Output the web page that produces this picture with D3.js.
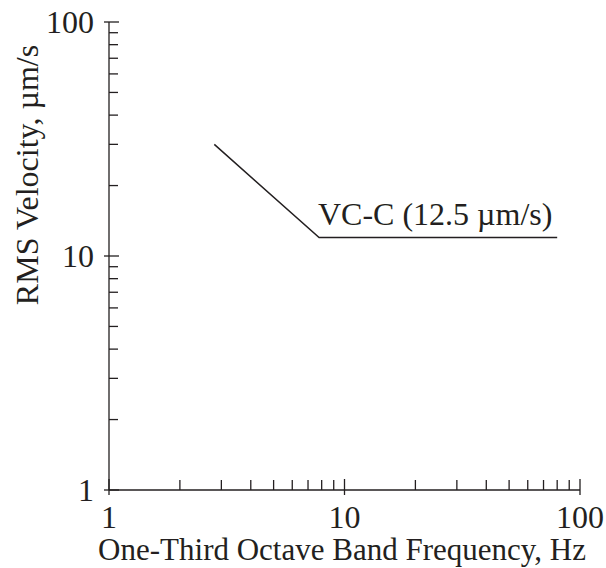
<!DOCTYPE html>
<html><head><meta charset="utf-8">
<script src="https://cdn.jsdelivr.net/npm/d3@7/dist/d3.min.js"></script>
<style>body{margin:0;background:#fff}svg{display:block}</style>
</head><body>
<svg id="c" width="606" height="568"></svg>
<script>
const freq = [2.8, 7.8, 80];
const velocity = [30, 12, 12];
const xTicks = [1, 10, 100];
const yTicks = [1, 10, 100];
const lineLabel = "VC-C (12.5 \u00b5m/s)";
const xTitle = "One-Third Octave Band Frequency, Hz";
const yTitle = "RMS Velocity, \u00b5m/s";

const ink = "#231f20";
const font = "'Liberation Serif','Times New Roman',serif";
const svg = d3.select("#c");
const x = d3.scaleLog().domain([1, 100]).range([109, 580]);
const y = d3.scaleLog().domain([1, 100]).range([490, 22]);

const minors = [];
for (let d = 1; d < 100; d *= 10) for (let k = 2; k <= 9; k++) minors.push(d * k);

const g = svg.append("g").attr("stroke", ink).attr("stroke-width", 1.3);
g.append("line").attr("x1", x(1)).attr("x2", x(100)).attr("y1", y(1)).attr("y2", y(1));
g.append("line").attr("x1", x(1)).attr("x2", x(1)).attr("y1", y(1)).attr("y2", y(100));
g.selectAll(".xm").data(minors).join("line").attr("x1", d => x(d)).attr("x2", d => x(d)).attr("y1", y(1)).attr("y2", y(1) - 10);
g.selectAll(".xM").data(xTicks).join("line").attr("x1", d => x(d)).attr("x2", d => x(d)).attr("y1", y(1) + 5).attr("y2", y(1) - 11);
g.selectAll(".ym").data(minors).join("line").attr("y1", d => y(d)).attr("y2", d => y(d)).attr("x1", x(1)).attr("x2", x(1) + 9);
g.selectAll(".yM").data(yTicks).join("line").attr("y1", d => y(d)).attr("y2", d => y(d)).attr("x1", x(1) - 5).attr("x2", x(1) + 10);

svg.selectAll(".xl").data(xTicks).join("text").attr("x", d => x(d)).attr("y", 528)
  .attr("text-anchor", "middle").attr("font-family", font).attr("font-size", 32).attr("fill", ink).text(d => d);
svg.selectAll(".yl").data(yTicks).join("text").attr("x", 94).attr("y", d => y(d) + 11)
  .attr("text-anchor", "end").attr("font-family", font).attr("font-size", 32).attr("fill", ink).text(d => d);

svg.append("text").attr("x", 342).attr("y", 560).attr("text-anchor", "middle")
  .attr("font-family", font).attr("font-size", 31).attr("fill", ink).text(xTitle);
svg.append("text").attr("transform", "translate(38,175) rotate(-90)").attr("text-anchor", "middle")
  .attr("font-family", font).attr("font-size", 32).attr("fill", ink).text(yTitle);

const pts = freq.map((f, i) => [f, velocity[i]]);
svg.append("path").datum(pts).attr("fill", "none").attr("stroke", ink).attr("stroke-width", 1.5)
  .attr("d", d3.line().x(d => x(d[0])).y(d => y(d[1])));
svg.append("text").attr("x", 318).attr("y", 225)
  .attr("font-family", font).attr("font-size", 32).attr("fill", ink).text(lineLabel);
</script>
</body></html>
